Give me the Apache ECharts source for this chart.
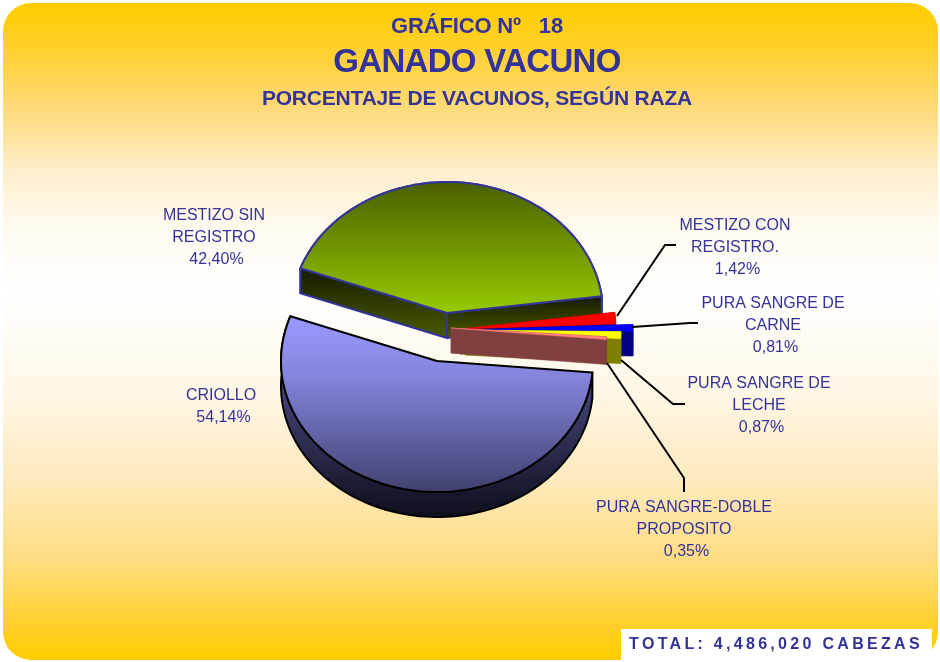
<!DOCTYPE html>
<html><head><meta charset="utf-8">
<style>html,body{margin:0;padding:0;background:#fff}#c{width:940px;height:662px}</style>
<script src="https://cdn.jsdelivr.net/npm/echarts@6/dist/echarts.min.js"></script>
</head><body><div id="c"></div>
<script>
// ---- data ----
const categories = ['MESTIZO SIN\nREGISTRO','MESTIZO CON\nREGISTRO.','PURA SANGRE DE\nCARNE','PURA SANGRE DE\nLECHE','PURA SANGRE-DOBLE\nPROPOSITO','CRIOLLO'];
const values = [42.40, 1.42, 0.81, 0.87, 0.35, 54.14];
const titleMain = 'GANADO VACUNO';
const titleTop = 'GRÁFICO Nº   18';
const titleSub = 'PORCENTAJE DE VACUNOS, SEGÚN RAZA';
const totalText = 'TOTAL: 4,486,020 CABEZAS';

// ---- layout / style ----
const INK = '#333399';
const RX = 156, RY = 131, DEPTH = 25, START = 160;
const pivots = [[447,313],[460,329],[477,329.5],[465,330],[451,328],[437,361]];
const labelPos = [[214,216],[735,226],[773,304],[759,384],[684,508],[221,396]];
const leaders = [null,
  [[617,316],[665,245],[676,245]],
  [[632,327],[690,323],[698,323]],
  [[621,360],[673,404],[685,404]],
  [[607,363],[684,478],[684,492]],
  null];
const grad = (stops) => ({type:'linear',x:0,y:0,x2:0,y2:1,colorStops:stops.map(c=>({offset:c[0],color:c[1]}))});
const skins = [
  {top:grad([[0,'#4a5e00'],[1,'#98cc00']]), side:grad([[0,'#161a00'],[1,'#4a5c00']]), line:INK, lw:2},
  {top:'#ff0000', side:'#800000', line:'#ff0000', lw:0},
  {top:'#0000ff', side:'#000080', line:'#0000ff', lw:0},
  {top:'#ffff00', side:'#808000', line:'#ffff00', lw:0},
  {top:'#ff8080', side:'#804040', line:'#ff8080', lw:0},
  {top:grad([[0,'#9a9aff'],[0.35,'#8484dc'],[1,'#40406e']]), side:grad([[0,'#7878c8'],[0.35,'#45457a'],[1,'#0e0e1c']]), line:'#000', lw:2}
];

// Browser letter spacing for the few texts that use it
const spacing = {[titleMain]:'-0.7px',[titleTop]:'-0.15px',[titleSub]:'-0.2px',[totalText]:'3.3px'};
const nativeFill = CanvasRenderingContext2D.prototype.fillText;
CanvasRenderingContext2D.prototype.fillText = function(t,x,y){
  const s = spacing[t];
  if (s) this.letterSpacing = s;
  nativeFill.call(this,t,x,y);
  if (s) this.letterSpacing = '0px';
};

const total = values.reduce((a,b)=>a+b,0);
const pct = v => v.toFixed(2).replace('.',',') + '%';

function arc(cx,cy,a0,a1,dy){
  const pts=[], n=Math.max(2,Math.ceil(Math.abs(a0-a1)/2));
  for(let i=0;i<=n;i++){
    const t=(a0+(a1-a0)*i/n)*Math.PI/180;
    pts.push([cx+RX*Math.cos(t),cy-RY*Math.sin(t)+dy]);
  }
  return pts;
}
function renderSlice(params,api){
  const i=params.dataIndex, v=api.value(0);
  let used=0; for(let k=0;k<i;k++) used+=values[k];
  const a0=START-used/total*360, a1=a0-v/total*360;
  const [cx,cy]=pivots[i], sk=skins[i];
  const top=arc(cx,cy,a0,a1,0), low=arc(cx,cy,a0,a1,DEPTH);
  const st=(fill)=>({fill,stroke:sk.lw?sk.line:fill,lineWidth:sk.lw||0.5,lineJoin:'round'});
  const kids=[];
  const rim=top.concat(low.slice().reverse());
  const f=top[0], l=top[top.length-1];
  kids.push({type:'polygon',shape:{points:rim},style:st(sk.side)});
  if(i!==5){
    kids.push({type:'polygon',shape:{points:[[cx,cy],f,[f[0],f[1]+DEPTH],[cx,cy+DEPTH]]},style:st(sk.side)});
    kids.push({type:'polygon',shape:{points:[[cx,cy],l,[l[0],l[1]+DEPTH],[cx,cy+DEPTH]]},style:st(sk.side)});
  }
  kids.push({type:'polygon',shape:{points:[[cx,cy]].concat(top)},style:st(sk.top)});
  if(leaders[i]) kids.push({type:'polyline',shape:{points:leaders[i]},style:{fill:'none',stroke:'#000',lineWidth:2}});
  const lines=categories[i].split('\n').concat(pct(v));
  lines.forEach((s,k)=>kids.push({type:'text',style:{text:s,x:labelPos[i][0]+(k===lines.length-1?2.5:0),y:labelPos[i][1]+k*22,textAlign:'center',textVerticalAlign:'middle',fill:INK,font:'16px "Liberation Sans"'}}));
  return {type:'group',children:kids};
}

const chart = echarts.init(document.getElementById('c'),null,{width:940,height:662});
chart.setOption({
  animation:false,
  title:[
    {text:titleTop,left:472,top:11,textAlign:'center',textStyle:{color:INK,fontFamily:'Liberation Sans',fontWeight:'bold',fontSize:22}},
    {text:titleMain,left:472,top:41,textAlign:'center',textStyle:{color:INK,fontFamily:'Liberation Sans',fontWeight:'bold',fontSize:33}},
    {text:titleSub,left:472,top:84,textAlign:'center',textStyle:{color:INK,fontFamily:'Liberation Sans',fontWeight:'bold',fontSize:21}}
  ],
  graphic:[
    {type:'rect',z:-10,silent:true,shape:{x:3,y:3,width:935,height:657,r:28},
     style:{fill:grad([[0,'#ffcc00'],[0.06,'#ffd024'],[0.15,'#ffd870'],[0.255,'#ffeecc'],[0.345,'#fffaf0'],[0.44,'#ffffff'],[0.6,'#fff6e4'],[0.72,'#ffeac0'],[0.85,'#ffdc80'],[0.94,'#ffd030'],[1,'#ffcc00']])}},
    {type:'rect',z:-9,silent:true,shape:{x:621,y:629,width:311,height:31},style:{fill:'#fff'}},
    {type:'text',z:5,silent:true,style:{text:totalText,x:776,y:645,textAlign:'center',textVerticalAlign:'middle',fill:INK,font:'bold 16px "Liberation Sans"'}}
  ],
  series:[{type:'custom',coordinateSystem:'none',silent:true,renderItem:renderSlice,data:values.map(v=>[v])}]
});
</script></body></html>
